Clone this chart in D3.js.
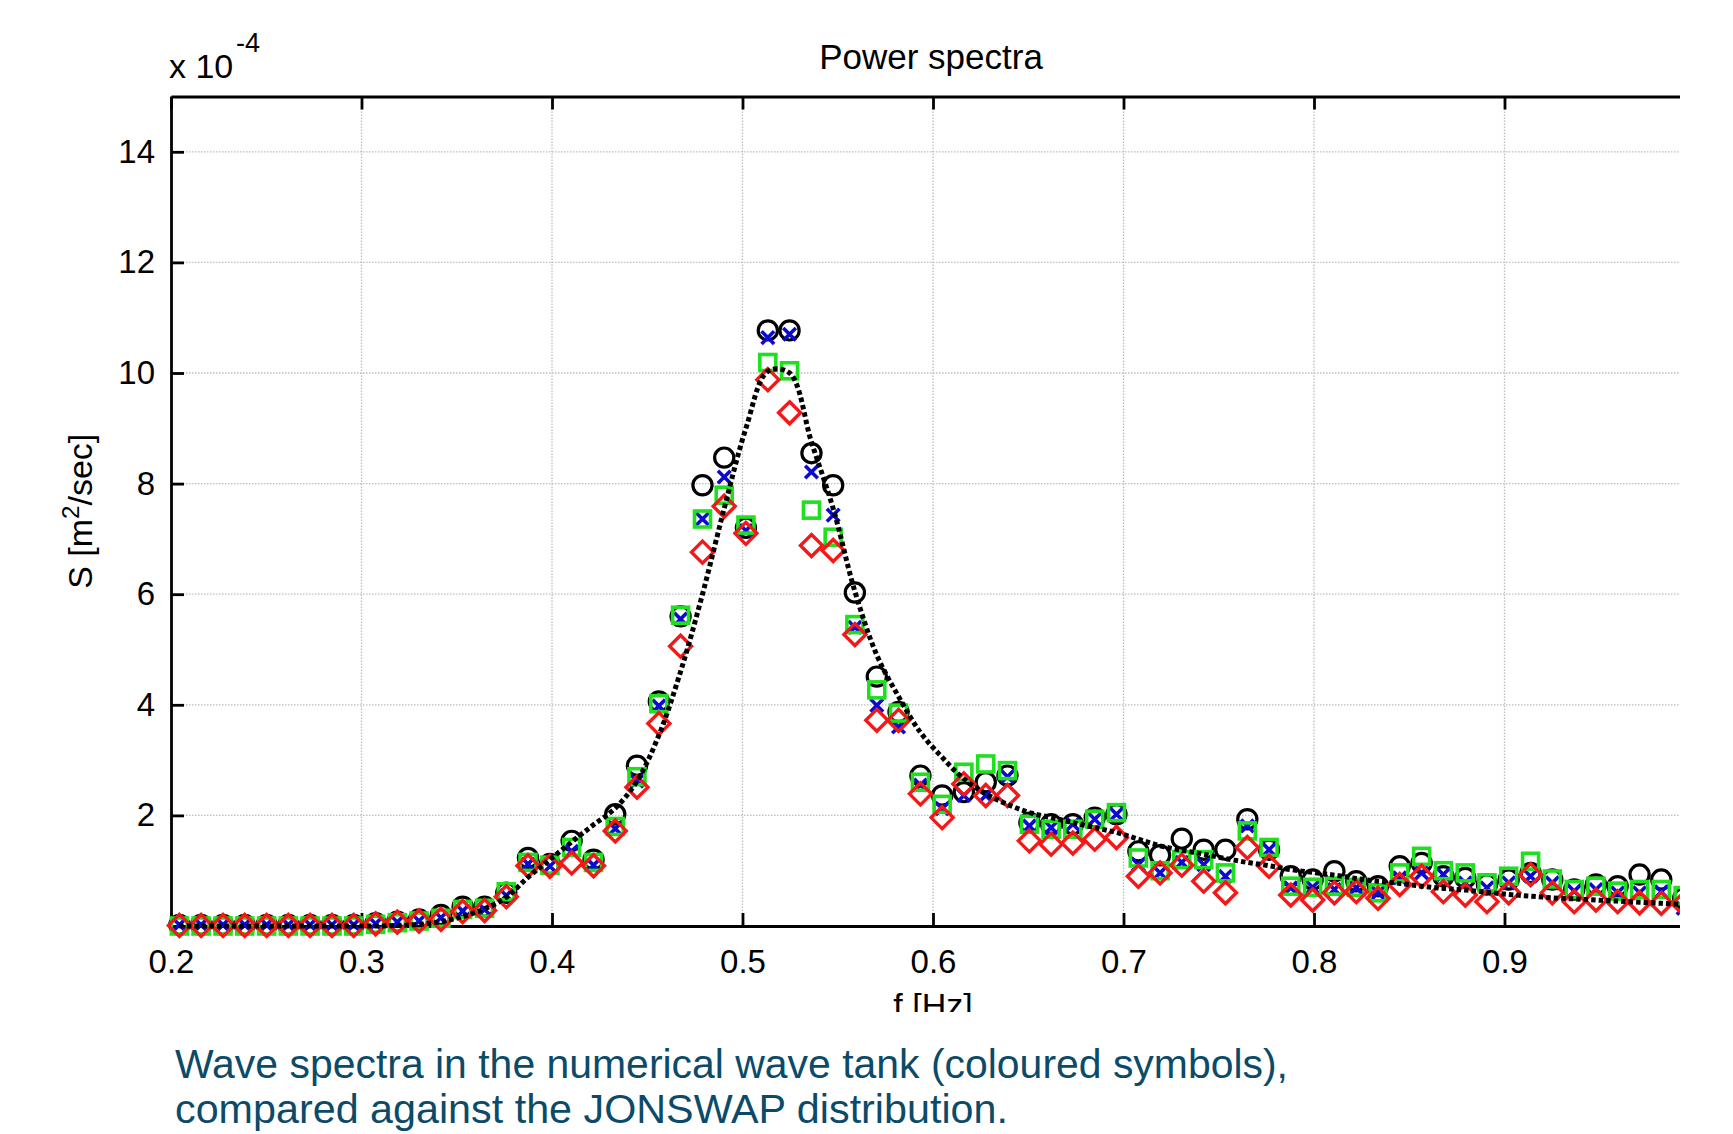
<!DOCTYPE html>
<html lang="en">
<head>
  <meta charset="UTF-8">
  <title>Power spectra</title>
  <script src="https://d3js.org/d3.v7.min.js"></script>
  <style>
    * {
      margin: 0;
      padding: 0;
      box-sizing: border-box;
    }
    body {
      background: #fff;
      font-family: "Liberation Sans", Arial, sans-serif;
    }
    svg {
      display: block;
    }
  </style>
</head>
<body>
  <div id="chart"></div>

  <script>
    // frequency bins [Hz]
    const freqs = [
      0.2044, 0.2158, 0.2273, 0.2387, 0.2502, 0.2616, 0.2730, 0.2845, 0.2959, 0.3074,
      0.3188, 0.3302, 0.3417, 0.3531, 0.3646, 0.3760, 0.3874, 0.3989, 0.4103, 0.4218,
      0.4332, 0.4446, 0.4561, 0.4675, 0.4790, 0.4904, 0.5018, 0.5133, 0.5247, 0.5362,
      0.5476, 0.5590, 0.5705, 0.5819, 0.5934, 0.6048, 0.6162, 0.6277, 0.6391, 0.6506,
      0.6620, 0.6734, 0.6849, 0.6963, 0.7078, 0.7192, 0.7306, 0.7421, 0.7535, 0.7650,
      0.7764, 0.7878, 0.7993, 0.8107, 0.8222, 0.8336, 0.8450, 0.8565, 0.8679, 0.8794,
      0.8908, 0.9022, 0.9137, 0.9251, 0.9366, 0.9480, 0.9594, 0.9709, 0.9823, 0.9938
    ];

    // spectra, in units of 1e-4 m^2/sec
    const circleVals = [
      0.02, 0.02, 0.02, 0.02, 0.02, 0.02, 0.02, 0.02, 0.02, 0.05,
      0.08, 0.12, 0.20, 0.35, 0.35, 0.60, 1.23, 1.12, 1.54, 1.20,
      2.02, 2.90, 4.06, 5.60, 7.97, 8.47, 7.20, 10.77, 10.77, 8.55,
      7.97, 6.03, 4.51, 3.87, 2.72, 2.36, 2.42, 2.60, 2.72, 1.87,
      1.84, 1.84, 1.96, 2.02, 1.35, 1.28, 1.58, 1.38, 1.38, 1.93,
      1.38, 0.90, 0.84, 0.99, 0.81, 0.72, 1.08, 1.14, 0.90, 0.87,
      0.75, 0.84, 0.96, 0.84, 0.66, 0.75, 0.72, 0.93, 0.84, 0.50
    ];
    const crossVals = [
      0.02, 0.02, 0.02, 0.02, 0.02, 0.02, 0.02, 0.02, 0.02, 0.04,
      0.07, 0.09, 0.15, 0.27, 0.30, 0.55, 1.12, 1.08, 1.35, 1.10,
      1.76, 2.62, 3.98, 5.55, 7.36, 8.12, 7.15, 10.64, 10.70, 8.21,
      7.43, 5.40, 3.99, 3.60, 2.55, 2.12, 2.36, 2.36, 2.70, 1.81,
      1.78, 1.84, 1.93, 2.02, 1.11, 0.96, 1.15, 1.11, 0.90, 1.81,
      1.38, 0.69, 0.70, 0.66, 0.69, 0.60, 0.87, 0.96, 0.93, 0.78,
      0.69, 0.78, 0.90, 0.78, 0.63, 0.66, 0.60, 0.60, 0.62, 0.32
    ];
    const squareVals = [
      0.00, 0.00, 0.00, 0.00, 0.00, 0.00, 0.00, 0.00, 0.00, 0.03,
      0.06, 0.09, 0.14, 0.30, 0.32, 0.62, 1.15, 1.10, 1.42, 1.15,
      1.80, 2.70, 4.02, 5.62, 7.36, 7.79, 7.25, 10.19, 10.04, 7.52,
      7.03, 5.45, 4.27, 3.85, 2.60, 2.20, 2.78, 2.93, 2.81, 1.84,
      1.75, 1.75, 1.93, 2.05, 1.23, 1.00, 1.20, 1.20, 0.96, 1.72,
      1.42, 0.72, 0.70, 0.72, 0.70, 0.60, 0.96, 1.26, 1.00, 0.96,
      0.78, 0.90, 1.17, 0.85, 0.66, 0.72, 0.63, 0.66, 0.66, 0.55
    ];
    const diamondVals = [
      0.01, 0.01, 0.01, 0.01, 0.01, 0.01, 0.01, 0.01, 0.01, 0.04,
      0.07, 0.09, 0.12, 0.26, 0.28, 0.53, 1.09, 1.08, 1.14, 1.09,
      1.72, 2.51, 3.66, 5.06, 6.76, 7.59, 7.10, 9.88, 9.28, 6.88,
      6.79, 5.27, 3.72, 3.72, 2.39, 1.96, 2.57, 2.36, 2.36, 1.54,
      1.48, 1.50, 1.57, 1.60, 0.90, 0.96, 1.10, 0.81, 0.60, 1.42,
      1.08, 0.56, 0.47, 0.60, 0.62, 0.50, 0.75, 0.90, 0.62, 0.56,
      0.44, 0.60, 0.93, 0.60, 0.44, 0.47, 0.44, 0.42, 0.41, 0.40
    ];
    // JONSWAP reference curve read at the same bins
    const jonswapVals = [
      0.00, 0.00, 0.00, 0.00, 0.00, 0.00, 0.00, 0.00, 0.00, 0.00,
      0.01, 0.03, 0.08, 0.17, 0.31, 0.52, 0.88, 1.20, 1.52, 1.83,
      2.13, 2.62, 3.45, 4.60, 6.00, 7.55, 9.00, 10.03, 10.00, 8.75,
      7.55, 6.05, 4.90, 4.15, 3.50, 3.05, 2.66, 2.39, 2.20, 2.05,
      1.96, 1.87, 1.78, 1.69, 1.57, 1.45, 1.37, 1.30, 1.22, 1.15,
      1.09, 1.02, 0.97, 0.92, 0.86, 0.81, 0.77, 0.72, 0.68, 0.65,
      0.61, 0.57, 0.54, 0.51, 0.49, 0.47, 0.45, 0.43, 0.41, 0.39
    ];

    const xTicks = [0.2, 0.3, 0.4, 0.5, 0.6, 0.7, 0.8, 0.9];
    const yTicks = [2, 4, 6, 8, 10, 12, 14];

    const W = 1733, H = 1134;
    const plot = {left: 171, right: 1695, top: 96.5, bottom: 926};
    const cropX = 1680;   // the picture is cut off here

    const x = d3.scaleLinear().domain([0.2, 1.0]).range([plot.left, plot.right]);
    const y = d3.scaleLinear().domain([0, 15]).range([plot.bottom, plot.top]);

    const svg = d3.select("#chart")
                  .append("svg")
                  .attr("width", W)
                  .attr("height", H);

    const defs = svg.append("defs");
    defs.append("clipPath").attr("id", "crop")
      .append("rect").attr("x", 0).attr("y", 0).attr("width", cropX).attr("height", H);
    defs.append("clipPath").attr("id", "xlabclip")
      .append("rect").attr("x", 0).attr("y", 0).attr("width", W).attr("height", 1012);

    const g = svg.append("g").attr("clip-path", "url(#crop)");

    // dotted grid
    g.append("g")
      .selectAll("line")
      .data(xTicks.slice(1).concat([1.0]))
      .join("line")
      .attr("x1", d => x(d)).attr("x2", d => x(d))
      .attr("y1", plot.top).attr("y2", plot.bottom)
      .attr("stroke", "#bdbdbd")
      .attr("stroke-width", 1.3)
      .attr("stroke-dasharray", "1.5,1.5");

    g.append("g")
      .selectAll("line")
      .data(yTicks)
      .join("line")
      .attr("x1", plot.left).attr("x2", plot.right)
      .attr("y1", d => y(d)).attr("y2", d => y(d))
      .attr("stroke", "#bdbdbd")
      .attr("stroke-width", 1.3)
      .attr("stroke-dasharray", "1.5,1.5");

    // axes, ticks pointing inward
    const styleAxis = sel => {
      sel.selectAll("path, line").attr("stroke", "#000").attr("stroke-width", 2.8);
      sel.selectAll("text")
        .attr("fill", "#000")
        .style("font-family", "'Liberation Sans', Arial, sans-serif")
        .style("font-size", "33px");
    };

    g.append("g")
      .attr("transform", `translate(0,${plot.bottom})`)
      .call(d3.axisBottom(x).tickValues(xTicks.concat([1.0]))
              .tickSizeInner(-13).tickSizeOuter(0).tickPadding(24)
              .tickFormat(d => d < 0.95 ? d3.format(".1f")(d) : ""))
      .call(styleAxis);

    g.append("g")
      .attr("transform", `translate(0,${plot.top})`)
      .call(d3.axisTop(x).tickValues(xTicks.concat([1.0]))
              .tickSizeInner(-13).tickSizeOuter(0).tickFormat(""))
      .call(styleAxis);

    g.append("g")
      .attr("transform", `translate(${plot.left},0)`)
      .call(d3.axisLeft(y).tickValues(yTicks)
              .tickSizeInner(-13).tickSizeOuter(0).tickPadding(16))
      .call(styleAxis);

    const pts = vals => freqs.map((f, i) => ({f: f, v: vals[i]}));

    // black circles
    g.append("g")
      .selectAll("circle")
      .data(pts(circleVals))
      .join("circle")
      .attr("cx", d => x(d.f))
      .attr("cy", d => y(d.v))
      .attr("r", 9.6)
      .attr("fill", "none")
      .attr("stroke", "#000")
      .attr("stroke-width", 3.2);

    // blue crosses
    const cs = 6.3;
    g.append("g")
      .selectAll("path")
      .data(pts(crossVals))
      .join("path")
      .attr("d", d => {
        const cx = x(d.f), cy = y(d.v);
        return `M${cx - cs},${cy - cs}L${cx + cs},${cy + cs}M${cx - cs},${cy + cs}L${cx + cs},${cy - cs}`;
      })
      .attr("fill", "none")
      .attr("stroke", "#0a0ad0")
      .attr("stroke-width", 3.6);

    // green squares
    const sq = 16;
    g.append("g")
      .selectAll("rect")
      .data(pts(squareVals))
      .join("rect")
      .attr("x", d => x(d.f) - sq / 2)
      .attr("y", d => y(d.v) - sq / 2)
      .attr("width", sq)
      .attr("height", sq)
      .attr("fill", "none")
      .attr("stroke", "#1fe01f")
      .attr("stroke-width", 3.6);

    // red diamonds
    const dm = 11;
    g.append("g")
      .selectAll("path")
      .data(pts(diamondVals))
      .join("path")
      .attr("d", d => {
        const cx = x(d.f), cy = y(d.v);
        return `M${cx},${cy - dm}L${cx + dm},${cy}L${cx},${cy + dm}L${cx - dm},${cy}Z`;
      })
      .attr("fill", "none")
      .attr("stroke", "#f41818")
      .attr("stroke-width", 3.4);

    // JONSWAP dotted curve
    const line = d3.line()
                   .x(d => x(d.f))
                   .y(d => y(d.v))
                   .curve(d3.curveCatmullRom.alpha(0.5));

    g.append("path")
      .datum(pts(jonswapVals))
      .attr("d", line)
      .attr("fill", "none")
      .attr("stroke", "#000")
      .attr("stroke-width", 5)
      .attr("stroke-dasharray", "4.5,3");

    // texts
    svg.append("text")
      .attr("x", (plot.left + plot.right) / 2 - 2)
      .attr("y", 69)
      .attr("text-anchor", "middle")
      .style("font-size", "35px")
      .text("Power spectra");

    svg.append("text")
      .attr("x", 169)
      .attr("y", 78)
      .style("font-size", "34px")
      .text("x 10");

    svg.append("text")
      .attr("x", 236)
      .attr("y", 52)
      .style("font-size", "27px")
      .text("-4");

    const ylab = svg.append("text")
      .attr("transform", `translate(92,${(plot.top + plot.bottom) / 2}) rotate(-90)`)
      .attr("text-anchor", "middle")
      .style("font-size", "34px");
    ylab.append("tspan").text("S [m");
    ylab.append("tspan").attr("dy", -13).style("font-size", "24px").text("2");
    ylab.append("tspan").attr("dy", 13).text("/sec]");

    svg.append("text")
      .attr("x", (plot.left + plot.right) / 2)
      .attr("y", 1017)
      .attr("text-anchor", "middle")
      .attr("clip-path", "url(#xlabclip)")
      .style("font-size", "34px")
      .text("f [Hz]");

    // caption
    const caption = [
      "Wave spectra in the numerical wave tank (coloured symbols),",
      "compared against the JONSWAP distribution."
    ];
    const capLens = [1113, 833];
    svg.append("g")
      .selectAll("text")
      .data(caption)
      .join("text")
      .attr("x", 175)
      .attr("y", (d, i) => 1078 + i * 45)
      .attr("textLength", (d, i) => capLens[i])
      .attr("lengthAdjust", "spacingAndGlyphs")
      .attr("fill", "#0b4b69")
      .style("font-size", "41px")
      .text(d => d);
  </script>
</body>
</html>
